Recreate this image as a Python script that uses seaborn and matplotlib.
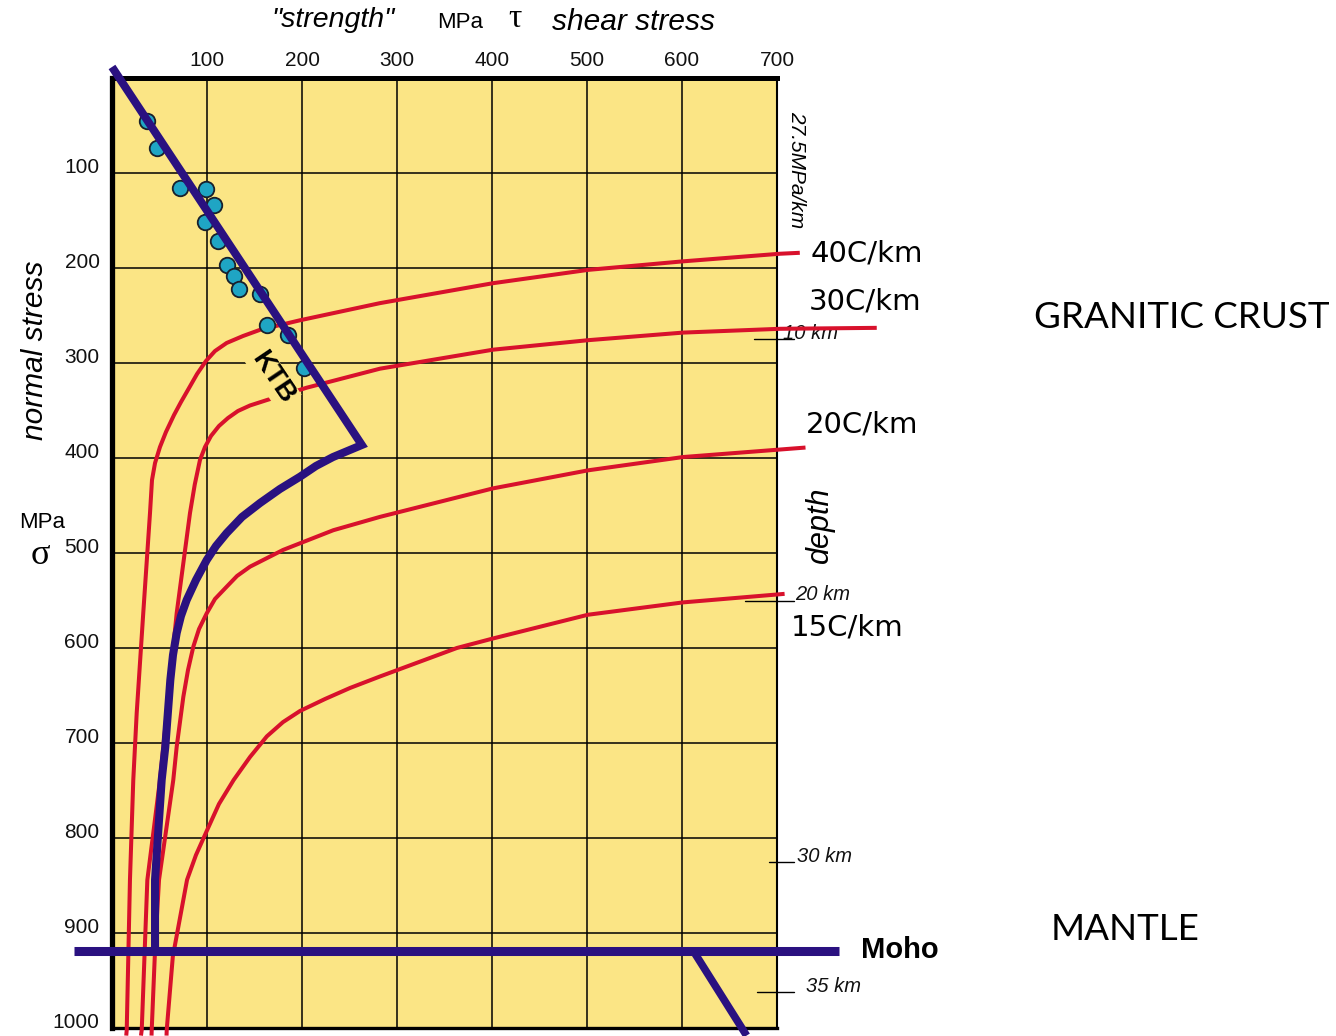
import numpy as np
import pandas as pd
import matplotlib
matplotlib.use("Agg")
import matplotlib.pyplot as plt
import seaborn as sns

# ---- data: shear stress tau (MPa) vs normal stress sigma (MPa) ----
tau_ticks = [100, 200, 300, 400, 500, 600, 700]
sigma_ticks = [100, 200, 300, 400, 500, 600, 700, 800, 900, 1000]

# geotherm strength envelopes (red)
g40_tau = [724, 703, 601, 501, 401, 282, 198, 156, 137.9, 120.7, 108.4, 98.9, 89.5, 81.1,
           72.6, 65.3, 56.8, 50.5, 45.3, 42.1, 40, 32.9, 26, 22.4, 18.9, 15.5, 15]
g40_sigma = [184, 185, 193, 202, 216, 237, 255, 265, 271.6, 278.9, 287.4, 297.9, 311.6, 326.3,
             341.1, 354.7, 372.6, 388.4, 405.3, 423.2, 457.9, 563.2, 668.4, 738.9, 844.2, 1002, 1008]

g30_tau = [805, 703, 601, 501, 401, 282, 205, 163, 145.3, 132.6, 122.1, 112.6, 104.2, 97.9,
           92.6, 87.1, 82.1, 68.1, 57.6, 50.5, 37.2, 31.3, 30.5]
g30_sigma = [263, 264, 268, 276, 286, 306, 326, 339, 344.7, 350.5, 357.9, 366.3, 376.8, 388.4,
             402.1, 428, 457.9, 563.2, 668.4, 738.9, 844.2, 1002, 1008]

g20_tau = [730, 601, 501, 401, 282, 233, 180, 145.3, 131.6, 120.7, 108.4, 99.7, 91.6, 85.6,
           80, 75.1, 68.1, 64.5, 49.5, 45.3, 41.8, 41.6]
g20_sigma = [389, 399, 413, 432, 462, 476, 496.8, 514.4, 524.2, 535.5, 548.4, 563.5, 580, 598.6,
             623.2, 651.3, 703.9, 739, 844, 918, 1002, 1008]

g15_tau = [708, 601, 501, 401, 363, 282, 250.5, 224.2, 197.9, 180, 163, 145.3, 128, 112.6,
           100, 88.4, 79, 64, 57.6, 57.4]
g15_sigma = [543, 552, 565, 590, 600, 630, 642.1, 653.7, 666.3, 678, 693, 714.7, 739, 764.2,
             792, 817.9, 844, 925, 1002, 1008]

geotherm_names = ["40C/km", "30C/km", "20C/km", "15C/km"]

# KTB borehole stress measurements
ktb_dot_tau = [36.5, 47.7, 71.6, 99, 107.7, 97.9, 111.2, 121.4, 128.8, 134, 155.8, 162.8, 185.6, 202.1]
ktb_dot_sigma = [45.3, 74, 116.1, 117.2, 133.7, 151.9, 171.6, 196.8, 208.4, 222.5, 227.7, 260, 270.5, 305.6]

# KTB friction line and creep curve (blue)
ktb_tau = [0, 263, 232.6, 214.7, 197.9, 176.8, 155.8, 136.8, 120.7, 109.5, 99.7, 88.4,
           78.6, 72.6, 68.1, 64.2, 61.4, 56.1, 52.3, 45.3, 45.3]
ktb_sigma = [-11.6, 386.3, 399, 408.4, 419.7, 432.6, 447.4, 462.1, 479, 492.6, 507.4, 528.4,
             549.5, 566.3, 584.2, 607.4, 633.7, 704.2, 738.9, 844, 919]

moho_tau = [-40, 765]
moho_sigma = [919, 919]
mantle_tau = [612, 668]
mantle_sigma = [919, 1008]

gradient = 27.5            # MPa/km
depth_km = [10, 20, 30, 35]

# ---- style ----
YELLOW = "#FBE585"
BLUE = "#2A1180"
RED = "#D8112C"
TEAL = "#1FA5C4"

sns.set_theme(style="white")
plt.rcParams["font.family"] = ["Liberation Sans", "DejaVu Sans"]
plt.rcParams["text.color"] = "black"

W, H = 1336, 1036
fig = plt.figure(figsize=(W / 100, H / 100), dpi=100)
ax = fig.add_axes([112 / W, 8 / H, 665 / W, 950 / H])
ax.set_facecolor(YELLOW)


def pxt(x, y):
    """figure-fraction position from pixel position"""
    return x / W, 1 - y / H


def draw_line(tau, sigma, color, lw, z):
    df = pd.DataFrame({"tau": tau, "sigma": sigma})
    sns.lineplot(data=df, x="tau", y="sigma", sort=False, estimator=None,
                 color=color, lw=lw, ax=ax, zorder=z)
    line = ax.lines[-1]
    line.set_clip_on(False)
    line.set_solid_joinstyle("round")
    line.set_solid_capstyle("butt")
    return line


for t, s in [(g40_tau, g40_sigma), (g30_tau, g30_sigma),
             (g20_tau, g20_sigma), (g15_tau, g15_sigma)]:
    draw_line(t, s, RED, 2.9, 3)

sns.scatterplot(x=ktb_dot_tau, y=ktb_dot_sigma, s=125, color=TEAL,
                edgecolor="#18202c", linewidth=1.3, ax=ax, zorder=4)

ktb_line = draw_line(ktb_tau, ktb_sigma, BLUE, 5.8, 5)
ktb_line.set_solid_joinstyle("miter")
draw_line(moho_tau, moho_sigma, BLUE, 6.5, 6)
draw_line(mantle_tau, mantle_sigma, BLUE, 5.5, 6)

# depth ticks along the right edge
depth_sigma = [gradient * d for d in depth_km]
tick_x0 = [676, 666, 692, 679]
label_x = [706, 719, 721, 730]
for d, s, x0, lx in zip(depth_km, depth_sigma, tick_x0, label_x):
    ax.plot([x0, 718], [s, s], color="black", lw=1.0, clip_on=False, zorder=2)
    ax.text(lx, s, f"{d} km", fontsize=14.5, style="italic", va="baseline",
            ha="left", color="#111111", clip_on=False, zorder=2)

# axes, grid and ticks
ax.set_xlim(0, 700)
ax.set_ylim(1000, 0)
ax.set_xticks(tau_ticks)
ax.set_yticks(sigma_ticks)
ax.set_xlabel("")
ax.set_ylabel("")
ax.grid(True, color="black", lw=1.1)
ax.set_axisbelow(True)
ax.xaxis.tick_top()
ax.tick_params(axis="x", top=True, bottom=False, labeltop=True, labelbottom=False,
               length=0, pad=6, labelsize=15, labelcolor="#111111")
ax.tick_params(axis="y", length=0, pad=9, labelsize=15, labelcolor="#111111")
for tk in ax.yaxis.get_major_ticks():
    tk.label1.set_va("baseline")

for side, lw in [("top", 3.6), ("left", 3.8), ("bottom", 2.4), ("right", 1.5)]:
    ax.spines[side].set_visible(True)
    ax.spines[side].set_color("black")
    ax.spines[side].set_linewidth(lw)

# annotations
ax.text(169.5, 315.8, "KTB", rotation=-56, fontsize=20, fontweight="bold",
        ha="center", va="center", zorder=7,
        bbox=dict(boxstyle="square,pad=0.05", fc=YELLOW, ec="none"))

fig.text(*pxt(333, 20), '"strength"', fontsize=20.5, style="italic", ha="center", va="center")
fig.text(*pxt(460, 22), "MPa", fontsize=16, ha="center", va="center")
fig.text(*pxt(515, 19), "τ", fontsize=24, ha="center", va="center",
         family=["Liberation Serif", "DejaVu Serif"])
fig.text(*pxt(633, 22), "shear stress", fontsize=21.5, style="italic", ha="center", va="center")
fig.text(*pxt(35, 350), "normal stress", fontsize=21.5, style="italic", rotation=90,
         ha="center", va="center")
fig.text(*pxt(42, 522), "MPa", fontsize=16, ha="center", va="center")
fig.text(*pxt(40, 555), "σ", fontsize=26, ha="center", va="center",
         family=["Liberation Serif", "DejaVu Serif"])
fig.text(*pxt(797, 170), "27.5MPa/km", fontsize=15, style="italic", rotation=-90,
         ha="center", va="center")
fig.text(*pxt(820, 525), "depth", fontsize=22, style="italic", rotation=90,
         ha="center", va="center")

for name, (x, y) in zip(geotherm_names, [(867, 253), (865, 302), (862, 424), (847, 628)]):
    fig.text(*pxt(x, y), name, fontsize=21, ha="center", va="center",
             family=["DejaVu Sans"])

fig.text(*pxt(900, 950), "Moho", fontsize=21, fontweight="bold", ha="center", va="center")
fig.text(*pxt(1182, 318), "GRANITIC CRUST", fontsize=26.5, ha="center", va="center",
         family=["Lato", "DejaVu Sans"])
fig.text(*pxt(1125, 930), "MANTLE", fontsize=26.5, ha="center", va="center",
         family=["Lato", "DejaVu Sans"])

fig.savefig("out.png", dpi=100, facecolor="white")
